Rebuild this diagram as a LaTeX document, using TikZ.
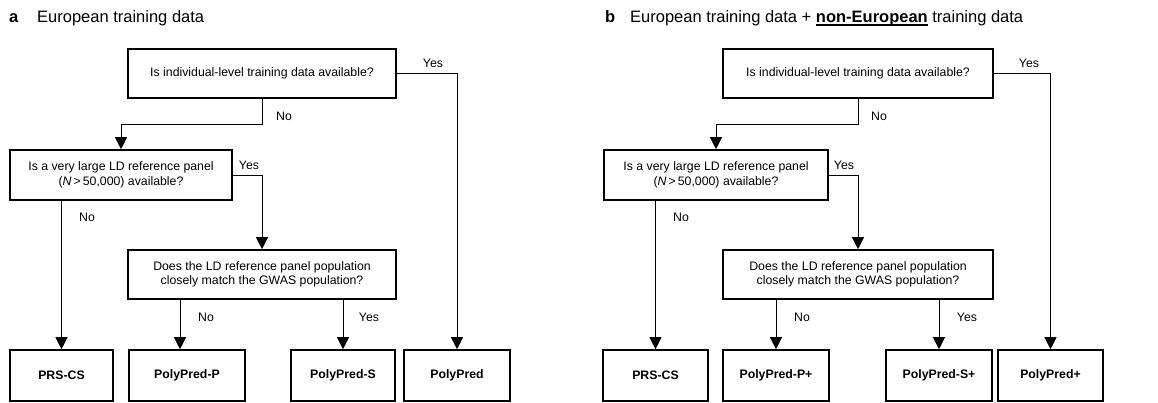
\documentclass[tikz,border=0pt]{standalone}
\usepackage{fontspec}
\setmainfont{Liberation Sans}
\usetikzlibrary{arrows.meta}
\newcommand{\qfont}{\fontsize{12.3}{14.5}\selectfont}
\newcommand{\ttlfont}{\fontsize{16.5}{19}\selectfont}
\newcommand{\ulword}[1]{\setbox0\hbox{#1}\rlap{\rule[-2.6pt]{\wd0}{1.4pt}}\box0}
\tikzset{
  qbox/.style={draw,line width=1.6pt,minimum height=49pt,inner sep=2pt,align=center,font=\qfont},
  rbox/.style={draw,line width=1.6pt,minimum height=51pt,inner sep=2pt,font=\qfont\bfseries},
  lbl/.style={inner sep=0pt,font=\qfont},
  ttl/.style={anchor=base west,inner sep=0pt,font=\ttlfont},
  arr/.style={line width=0.9pt,-{Triangle[width=12pt,length=12pt]}},
}
\begin{document}
\begin{tikzpicture}[x=1pt,y=-1pt]
  \useasboundingbox (0,0) rectangle (1158,403);
  %% Panel a
  \node[ttl] (pa) at (9,23) {\textbf{a}};
  \node[ttl] (ta) at (37,23) {European training data};
  %% Questions
  \node[qbox,minimum width=268pt] (qa1) at (262,73.5) {Is individual-level training data available?};
  \node[qbox,minimum width=222pt,minimum height=50pt] (qa2) at (121,175) {Is a very large LD reference panel\\(\textit{N}\,>\,50,000) available?};
  \node[qbox,minimum width=268pt] (qa3) at (262,274.5) {Does the LD reference panel population\\closely match the GWAS population?};
  %% Methods
  \node[rbox,minimum width=103pt] (ra1) at (61.5,375.5) {PRS-CS};
  \node[rbox,minimum width=116pt] (ra2) at (187,375.5) {PolyPred-P};
  \node[rbox,minimum width=104pt] (ra3) at (343,375.5) {PolyPred-S};
  \node[rbox,minimum width=106pt] (ra4) at (457,375.5) {PolyPred};
  %% Connectors
  \draw[arr] (qa1.east) -| (ra4.north);
  \draw[arr] (qa1.south) -- ++(0,26) -| (qa2.north);
  \draw[arr] (qa2.east) -| (qa3.north);
  \draw[arr] (qa2.south -| ra1.north) -- (ra1.north);
  \draw[arr] ([xshift=-7pt]ra2.north |- qa3.south) -- ([xshift=-7pt]ra2.north);
  \draw[arr] (qa3.south -| ra3.north) -- (ra3.north);
  %% Answers
  \node[lbl] (ya1) at (433,63) {Yes};
  \node[lbl] (na1) at (284,116) {No};
  \node[lbl] (ya2) at (249,165) {Yes};
  \node[lbl] (na2) at (87,217) {No};
  \node[lbl] (na3) at (206,317) {No};
  \node[lbl] (ya3) at (369,317) {Yes};

  %% Panel b
  \begin{scope}[xshift=594pt]
    \node[ttl] (pb) at (11,23) {\textbf{b}};
    \node[ttl] (tb) at (36,23) {European training data + \ulword{\textbf{non-European}}\ training data};
    %% Questions
    \node[qbox,minimum width=270pt] (qb1) at (264,73.5) {Is individual-level training data available?};
    \node[qbox,minimum width=224pt,minimum height=50pt] (qb2) at (122,175) {Is a very large LD reference panel\\(\textit{N}\,>\,50,000) available?};
    \node[qbox,minimum width=270pt] (qb3) at (264,274.5) {Does the LD reference panel population\\closely match the GWAS population?};
    %% Methods
    \node[rbox,minimum width=105pt] (rb1) at (61.5,375.5) {PRS-CS};
    \node[rbox,minimum width=106pt] (rb2) at (182,375.5) {PolyPred-P+};
    \node[rbox,minimum width=106pt] (rb3) at (345,375.5) {PolyPred-S+};
    \node[rbox,minimum width=105pt] (rb4) at (456.5,375.5) {PolyPred+};
    %% Connectors
    \draw[arr] (qb1.east) -| (rb4.north);
    \draw[arr] (qb1.south) -- ++(0,26) -| (qb2.north);
    \draw[arr] (qb2.east) -| (qb3.north);
    \draw[arr] (qb2.south -| rb1.north) -- (rb1.north);
    \draw[arr] (qb3.south -| rb2.north) -- (rb2.north);
    \draw[arr] (qb3.south -| rb3.north) -- (rb3.north);
    %% Answers
    \node[lbl] (yb1) at (435,63) {Yes};
    \node[lbl] (nb1) at (285,116) {No};
    \node[lbl] (yb2) at (250,165) {Yes};
    \node[lbl] (nb2) at (87,217) {No};
    \node[lbl] (nb3) at (208,317) {No};
    \node[lbl] (yb3) at (373,317) {Yes};
  \end{scope}
\end{tikzpicture}
\end{document}
